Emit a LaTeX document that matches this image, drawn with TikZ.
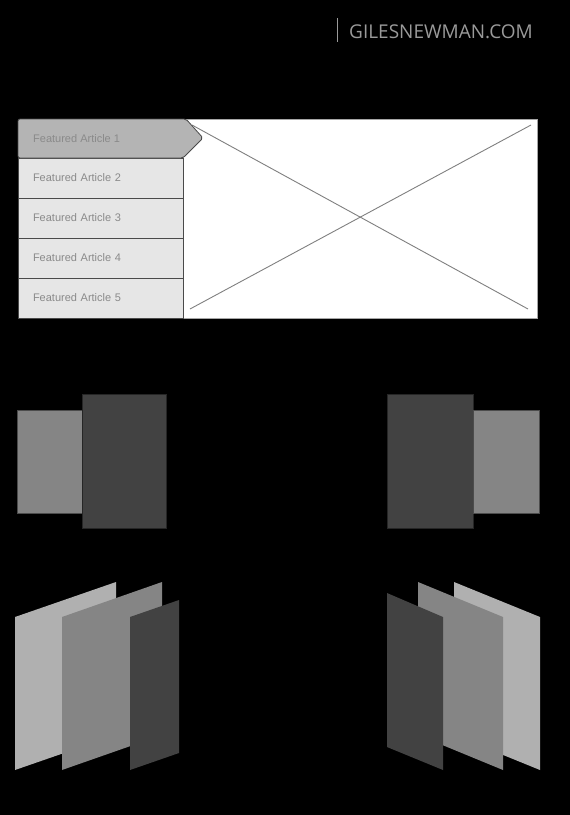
\documentclass[tikz,border=0pt]{standalone}
\usepackage{fontspec}
\setmainfont{Liberation Sans}
\newfontfamily\headfont{Open Sans}
\usetikzlibrary{positioning}

\definecolor{rowfill}{HTML}{E6E6E6}
\definecolor{tabfill}{HTML}{B4B4B4}
\definecolor{rowline}{HTML}{4A4A4A}
\definecolor{rowtext}{HTML}{8A8A8A}
\definecolor{paneldark}{HTML}{424242}
\definecolor{panelmid}{HTML}{858585}
\definecolor{panellight}{HTML}{B0B0B0}
\definecolor{headtext}{HTML}{9A9A9A}

\begin{document}
\begin{tikzpicture}[x=1pt,y=-1pt,node distance=0pt,
    row/.style={rectangle,draw=rowline,fill=rowfill,line width=0.8pt,outer sep=0pt,
      minimum width=165pt,minimum height=40pt,text width=135pt,align=left,
      inner xsep=15pt,font=\fontsize{11}{12}\selectfont,text=rowtext},
    dark panel/.style={fill=paneldark,draw=black!85!white,line width=0.8pt},
    mid panel/.style={fill=panelmid,draw=black!70!white,line width=0.8pt},
    light panel/.style={fill=panellight,draw=none}]

  % background
  \fill[black] (0,0) rectangle (570,815);
  \useasboundingbox (0,0) rectangle (570,815);

  % header
  \draw[headtext,line width=1pt] (337,18) -- (337,42);
  \node[anchor=west,inner sep=0pt,text=headtext,font=\headfont\fontsize{19}{22}\selectfont] (site) at (349,32) {GILESNEWMAN.COM};

  % slider: image area
  \draw[fill=white,draw=gray!70] (183,119) rectangle (537,318);
  \coordinate (img nw) at (192,125);
  \coordinate (img ne) at (531,125);
  \coordinate (img sw) at (190,309);
  \coordinate (img se) at (528,309);
  \draw[gray,line width=0.9pt] (img sw) -- (img ne);
  \draw[gray,line width=0.9pt] (img nw) -- (img se);

  % slider: article list
  \node[row,anchor=north west] (a2) at (18,158) {Featured Article 2};
  \node[row,below=of a2] (a3) {Featured Article 3};
  \node[row,below=of a3] (a4) {Featured Article 4};
  \node[row,below=of a4] (a5) {Featured Article 5};
  \draw[draw=rowline,fill=tabfill,line width=0.8pt,rounded corners=2pt]
    (18,119) -- (186,119) -- (203,138) -- (183,158) -- (18,158) -- cycle;
  \node[anchor=west,inner sep=0pt,font=\fontsize{11}{12}\selectfont,text=rowtext] (a1) at (33,138.5) {Featured Article 1};

  % middle left
  \draw[mid panel] (17,410) rectangle (82,513);
  \draw[dark panel] (82,394) rectangle (166,528);

  % middle right
  \draw[dark panel] (387,394) rectangle (473,528);
  \draw[mid panel] (473,410) rectangle (539,513);

  % bottom left
  \fill[panellight] (15,617) -- (116,582) -- (116,735) -- (15,770) -- cycle;
  \fill[panelmid] (62,617) -- (162,582) -- (162,735) -- (62,770) -- cycle;
  \fill[paneldark] (130,617) -- (179,600) -- (179,753) -- (130,770) -- cycle;

  % bottom right
  \fill[panellight] (454,582) -- (540,617) -- (540,770) -- (454,735) -- cycle;
  \fill[panelmid] (418,582) -- (503,617) -- (503,770) -- (418,735) -- cycle;
  \fill[paneldark] (387,593) -- (443,617) -- (443,770) -- (387,747) -- cycle;
\end{tikzpicture}
\end{document}
